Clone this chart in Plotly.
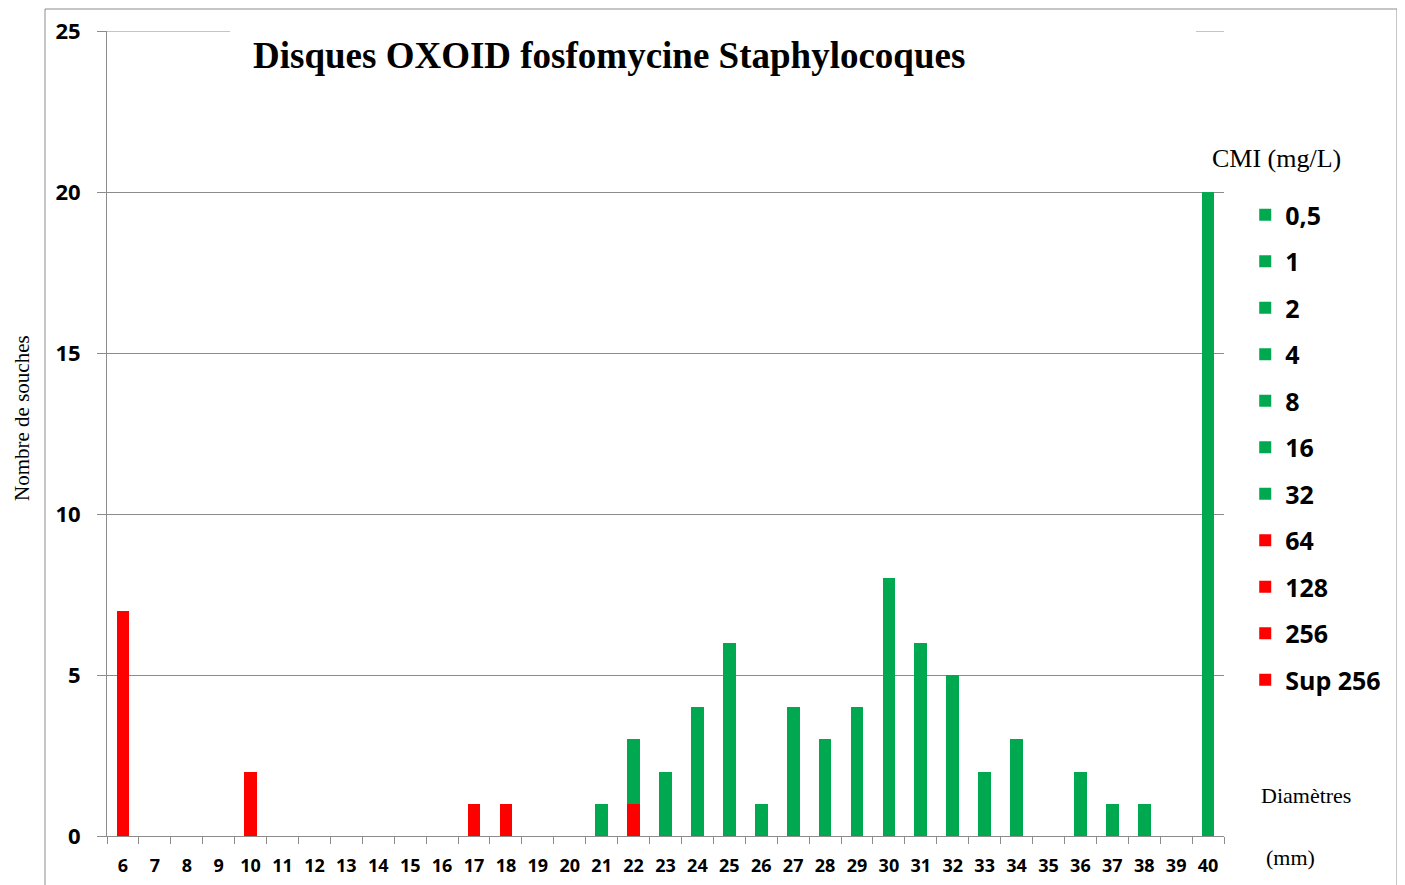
import plotly.graph_objects as go

# diametres (mm) et nombre de souches
diametres = [str(d) for d in range(6, 41)]
cmi_labels = ["0,5", "1", "2", "4", "8", "16", "32", "64", "128", "256", "Sup 256"]

# souches sensibles (CMI <= 32) et resistantes (CMI >= 64), par diametre 6..40
sensibles = [0, 0, 0, 0, 0, 0, 0, 0, 0, 0, 0, 0, 0, 0, 0,
             1, 2, 2, 4, 6, 1, 4, 3, 4, 8, 6, 5, 2, 3, 0, 2, 1, 1, 0, 20]
resistantes = [7, 0, 0, 0, 2, 0, 0, 0, 0, 0, 0, 1, 1, 0, 0,
               0, 1, 0, 0, 0, 0, 0, 0, 0, 0, 0, 0, 0, 0, 0, 0, 0, 0, 0, 0]

VERT = "#00A84F"
ROUGE = "#FF0000"
GRIS = "#8c8c8c"

fig = go.Figure()

# traces ajoutees de bas en haut (rouge en bas de la pile), ordre de legende via legendrank
for lab in reversed(cmi_labels):
    rouge = lab in ("64", "128", "256", "Sup 256")
    if lab == "Sup 256":
        y = resistantes
    elif lab == "0,5":
        y = sensibles
    else:
        y = [0] * len(diametres)
    fig.add_trace(go.Bar(x=diametres, y=y, name=lab, legendgroup=lab,
                         legendrank=(cmi_labels.index(lab) + 1) * 10,
                         marker=dict(color=ROUGE if rouge else VERT, line=dict(width=0)),
                         width=0.4))

# la page html ajoute 8px de marge au body : on compense
fig.update_layout(
    barmode="stack",
    width=1405, height=885,
    margin=dict(l=99, r=189, t=23, b=57, autoexpand=False),
    plot_bgcolor="white", paper_bgcolor="white",
    showlegend=True,
    legend=dict(x=1.019, xanchor="left", y=0.80, yanchor="top",
                traceorder="grouped", tracegroupgap=11,
                font=dict(family="Open Sans", size=25, color="black", weight="bold")),
    xaxis=dict(type="category", showline=True, linecolor=GRIS, linewidth=1,
               ticks="outside", tickson="boundaries", ticklen=7, tickcolor=GRIS,
               showgrid=False, ticklabelstandoff=13, automargin=False,
               tickfont=dict(family="Open Sans", size=18, color="black", weight="bold")),
    yaxis=dict(range=[0, 25], dtick=5, showline=True, linecolor=GRIS, linewidth=1,
               ticks="outside", ticklen=9, tickcolor=GRIS,
               showgrid=True, gridcolor=GRIS, gridwidth=1, zeroline=False,
               ticklabelstandoff=12, automargin=False,
               tickfont=dict(family="Open Sans", size=22, color="black", weight="bold")),
)


def px_x(v):
    return (v - 107) / 1117


def px_y(v):
    return (836 - v) / 805


# ligne de grille a 25 (bord haut du trace)
fig.add_shape(type="line", xref="x domain", yref="y", x0=0, x1=1, y0=25, y1=25,
              line=dict(color=GRIS, width=1), layer="below")
# cadre exterieur
fig.add_shape(type="rect", xref="paper", yref="paper",
              x0=px_x(45), x1=px_x(1397), y0=px_y(900), y1=px_y(9),
              line=dict(color=GRIS, width=1), fillcolor="rgba(0,0,0,0)", layer="above")
# fond blanc du titre (masque la grille a 25)
fig.add_shape(type="rect", xref="paper", yref="paper",
              x0=px_x(230), x1=px_x(1196), y0=px_y(88), y1=px_y(24),
              line=dict(width=0), fillcolor="white", layer="above")

fig.add_annotation(text="<b>Disques OXOID fosfomycine Staphylocoques</b>",
                   xref="paper", yref="paper", x=px_x(609), y=px_y(56),
                   xanchor="center", yanchor="middle", showarrow=False,
                   font=dict(family="Liberation Serif", size=37, color="black"))
fig.add_annotation(text="CMI (mg/L)", xref="paper", yref="paper",
                   x=px_x(1276), y=px_y(158), xanchor="center", yanchor="middle", showarrow=False,
                   font=dict(family="Liberation Serif", size=26, color="black"))
fig.add_annotation(text="Diamètres", xref="paper", yref="paper",
                   x=px_x(1306), y=px_y(795), xanchor="center", yanchor="middle", showarrow=False,
                   font=dict(family="Liberation Serif", size=22, color="black"))
fig.add_annotation(text="(mm)", xref="paper", yref="paper",
                   x=px_x(1290), y=px_y(857), xanchor="center", yanchor="middle", showarrow=False,
                   font=dict(family="Liberation Serif", size=22, color="black"))
fig.add_annotation(text="Nombre de souches", xref="paper", yref="paper",
                   x=px_x(22), y=px_y(418), xanchor="center", yanchor="middle",
                   showarrow=False, textangle=-90,
                   font=dict(family="Liberation Serif", size=21, color="black"))

fig.write_html("out.html")
